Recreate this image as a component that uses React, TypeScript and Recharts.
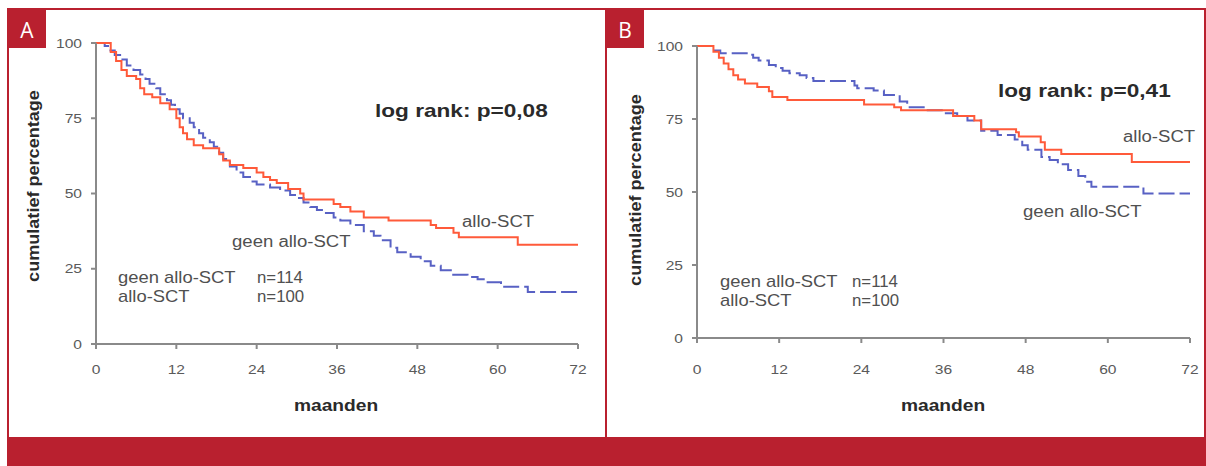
import React from "react";
import { LineChart, Line, XAxis, YAxis } from "recharts";

// ---------- data ----------
const monthTicks = [0, 12, 24, 36, 48, 60, 72];
const pctTicks = [0, 25, 50, 75, 100];

// Panel A
const aAlloMonths = [0, 2.2, 3.0, 3.8, 4.6, 6.0, 6.6, 7.2, 8.4, 9.6, 11.0, 12.0, 12.5, 13.0, 13.6, 14.6, 16.0, 18.4, 19.0, 20.0, 22.0, 24.0, 25.0, 26.0, 27.0, 28.7, 30.5, 31.0, 35.5, 36.5, 38.0, 40.0, 43.7, 50.0, 50.8, 53.4, 54.2, 63.0, 72];
const aAlloPct = [100, 97, 94, 91, 89, 88, 85, 83, 82, 80, 78, 75, 72, 70, 68, 66, 65, 63, 61, 59.5, 58.5, 57, 55.5, 54.5, 53.5, 51.5, 50, 48, 46.5, 45.5, 44, 42, 41, 39.5, 38.5, 37, 35.5, 33, 33];

const aGeenMonths = [0, 1.3, 2.0, 2.8, 3.6, 4.6, 5.6, 6.6, 7.4, 8.0, 9.0, 9.6, 10.6, 11.2, 11.8, 12.5, 13.0, 14.0, 14.6, 15.4, 16.0, 17.0, 17.6, 18.4, 19.0, 20.0, 21.0, 22.0, 23.0, 24.0, 26.0, 27.5, 29.0, 30.0, 31.0, 32.0, 33.0, 34.0, 35.5, 36.5, 38.0, 40.0, 41.5, 42.5, 44.0, 45.0, 47.0, 48.5, 50.0, 51.5, 53.0, 55.5, 57.0, 58.5, 60.5, 64.5, 72];
const aGeenPct = [100, 99, 97.5, 96, 94.5, 92.5, 91, 89.5, 88, 86.5, 85, 83, 81, 79.5, 78, 76.5, 75, 73.5, 72, 70, 68.5, 67, 65.5, 63.5, 61.5, 59, 57, 55.5, 54, 53, 52, 51, 49.5, 48.5, 47, 45.5, 44.5, 43.5, 42, 41, 39.5, 37.5, 36, 34.5, 32, 30.5, 29, 27.5, 26, 24.5, 23, 22.3, 21.5, 20.5, 19, 17.3, 17.3];

// Panel B
const bAlloMonths = [0, 2.4, 3.2, 3.9, 4.6, 5.3, 6.0, 7.0, 8.8, 10.5, 11.0, 13.2, 24.4, 28.8, 29.8, 37.4, 40.5, 41.5, 46.6, 47.0, 50.2, 50.8, 53.2, 63.5, 72];
const bAlloPct = [100, 98, 96, 94, 92, 90, 88.5, 87.2, 86, 84.5, 82.5, 81.5, 80, 79, 78, 76, 74.5, 71.5, 70.5, 69, 67, 64.5, 63, 60.3, 60.3];

const bGeenMonths = [0, 2.4, 3.4, 7.5, 8.2, 9.0, 10.5, 11.5, 12.5, 13.5, 15.0, 16.0, 17.0, 23.0, 23.4, 25.8, 27.3, 29.6, 30.7, 33.7, 36.1, 38.0, 39.5, 41.5, 43.9, 46.4, 47.5, 48.3, 50.3, 51.5, 52.7, 54.2, 55.7, 56.7, 57.6, 65.2, 72];
const bGeenPct = [100, 98.5, 97.5, 97, 96, 95, 93.5, 92.5, 91.5, 90.7, 90, 89, 88, 86.5, 85.5, 84.8, 83.2, 81, 79, 78, 77, 76, 74.5, 71, 69.5, 68, 66, 64.5, 62, 61, 59.5, 57.5, 55.5, 53.5, 51.8, 49.5, 49.5];

const zip = (ms: number[], vs: number[]) => ms.map((m, i) => ({ m, v: vs[i] }));

// ---------- styles ----------
const FONT = "'Liberation Sans', Arial, Helvetica, sans-serif";
const RED_FRAME = "#b9202f";
const LINE_RED = "#ff5a3a";
const LINE_BLUE = "#5861c4";
const AXIS = "#8a8a8a";
const TXT = "#505050";
const BOLD_TXT = "#2a2a2a";

type STProps = {
  x: number; y: number; s?: number; size: number; weight?: number | string;
  fill?: string; anchor?: "start" | "middle" | "end"; rotate?: number; children: React.ReactNode;
};
const ST = ({ x, y, s = 1, size, weight = 400, fill = TXT, anchor = "start", rotate = 0, children }: STProps) => (
  <text
    transform={`translate(${x},${y})${rotate ? ` rotate(${rotate})` : ""} scale(${s},1)`}
    fontSize={size}
    fontWeight={weight}
    fill={fill}
    textAnchor={anchor}
    fontFamily={FONT}
  >
    {children}
  </text>
);

const makeXTick = (dy: number) => (p: any) => (
  <ST x={p.x} y={p.y + dy} s={1.2} size={13} fill="#5a5a5a" anchor="middle">
    {p.payload.value}
  </ST>
);
const YTick = (p: any) => (
  <ST x={p.x} y={p.y + 4.5} s={1.2} size={13} fill="#5a5a5a" anchor="end">
    {p.payload.value}
  </ST>
);

type PanelProps = {
  left: number; top: number; width: number; height: number;
  margin: { top: number; right: number; bottom: number; left: number };
  allo: { m: number; v: number }[]; geen: { m: number; v: number }[];
  xdy: number;
};

const Panel = ({ left, top, width, height, margin, allo, geen, xdy }: PanelProps) => (
  <div style={{ position: "absolute", left, top, width, height }}>
    <LineChart width={width} height={height} margin={margin}>
      <XAxis
        type="number"
        dataKey="m"
        domain={[0, 72]}
        ticks={monthTicks}
        interval={0}
        height={30}
        stroke={AXIS}
        strokeWidth={2}
        tickSize={5}
        tickMargin={0}
        tick={makeXTick(xdy)}
        allowDuplicatedCategory={false}
      />
      <YAxis
        type="number"
        dataKey="v"
        domain={[0, 100]}
        ticks={pctTicks}
        interval={0}
        width={40}
        stroke={AXIS}
        strokeWidth={2}
        tickSize={5}
        tickMargin={9}
        tick={YTick}
      />
      <Line
        data={geen}
        dataKey="v"
        type="stepAfter"
        stroke={LINE_BLUE}
        strokeWidth={2}
        strokeDasharray="16 5"
        dot={false}
        activeDot={false}
        isAnimationActive={false}
      />
      <Line
        data={allo}
        dataKey="v"
        type="stepAfter"
        stroke={LINE_RED}
        strokeWidth={2}
        dot={false}
        activeDot={false}
        isAnimationActive={false}
      />
    </LineChart>
  </div>
);

const box = (l: number, t: number, w: number, h: number, c: string): React.CSSProperties => ({
  position: "absolute", left: l, top: t, width: w, height: h, background: c,
});

export default function App() {
  return (
    <div style={{ position: "absolute", left: 0, top: 0, width: 1206, height: 466, background: "#fff", overflow: "hidden" }}>
      {/* frame */}
      <div style={box(7, 8, 1199, 2, RED_FRAME)} />
      <div style={box(7, 8, 2, 430, RED_FRAME)} />
      <div style={box(605, 8, 2, 430, RED_FRAME)} />
      <div style={box(1204, 8, 2, 430, RED_FRAME)} />
      <div style={box(7, 437, 1199, 29, RED_FRAME)} />
      <div style={box(7, 10, 39, 38, RED_FRAME)} />
      <div style={box(606, 10, 38, 38, RED_FRAME)} />

      <Panel
        left={10}
        top={10}
        width={595}
        height={425}
        margin={{ top: 33, right: 27, bottom: 61, left: 46 }}
        allo={zip(aAlloMonths, aAlloPct)}
        geen={zip(aGeenMonths, aGeenPct)}
        xdy={24.5}
      />
      <Panel
        left={608}
        top={10}
        width={596}
        height={425}
        margin={{ top: 36, right: 14, bottom: 67, left: 49 }}
        allo={zip(bAlloMonths, bAlloPct)}
        geen={zip(bGeenMonths, bGeenPct)}
        xdy={30.5}
      />

      <svg width={1206} height={466} style={{ position: "absolute", left: 0, top: 0, pointerEvents: "none" }}>
        {/* panel letters */}
        <text x={27} y={38} fontSize={21} fill="#fff" textAnchor="middle" fontFamily="'Open Sans', 'Noto Sans', sans-serif">A</text>
        <text x={625} y={38} fontSize={21} fill="#fff" textAnchor="middle" fontFamily="'Open Sans', 'Noto Sans', sans-serif">B</text>

        {/* panel A texts */}
        <ST x={375} y={117} s={1.19} size={19} weight={700} fill={BOLD_TXT}>log rank: p=0,08</ST>
        <ST x={462} y={227} s={1.16} size={16}>allo-SCT</ST>
        <ST x={232} y={247} s={1.16} size={16}>geen allo-SCT</ST>
        <ST x={118} y={283} s={1.15} size={16}>geen allo-SCT</ST>
        <ST x={257} y={283} s={1.05} size={16}>n=114</ST>
        <ST x={118} y={302} s={1.15} size={16}>allo-SCT</ST>
        <ST x={257} y={302} s={1.05} size={16}>n=100</ST>
        <ST x={39} y={186} s={1.13} size={16} weight={700} fill={BOLD_TXT} anchor="middle" rotate={-90}>cumulatief percentage</ST>
        <ST x={336} y={411} s={1.2} size={16} weight={700} fill={BOLD_TXT} anchor="middle">maanden</ST>

        {/* panel B texts */}
        <ST x={998} y={97} s={1.19} size={19} weight={700} fill={BOLD_TXT}>log rank: p=0,41</ST>
        <ST x={1123} y={142} s={1.16} size={16}>allo-SCT</ST>
        <ST x={1023} y={217} s={1.16} size={16}>geen allo-SCT</ST>
        <ST x={720} y={287} s={1.15} size={16}>geen allo-SCT</ST>
        <ST x={852} y={287} s={1.05} size={16}>n=114</ST>
        <ST x={720} y={306} s={1.15} size={16}>allo-SCT</ST>
        <ST x={852} y={306} s={1.05} size={16}>n=100</ST>
        <ST x={641} y={190} s={1.13} size={16} weight={700} fill={BOLD_TXT} anchor="middle" rotate={-90}>cumulatief percentage</ST>
        <ST x={943} y={411} s={1.2} size={16} weight={700} fill={BOLD_TXT} anchor="middle">maanden</ST>
      </svg>
    </div>
  );
}
